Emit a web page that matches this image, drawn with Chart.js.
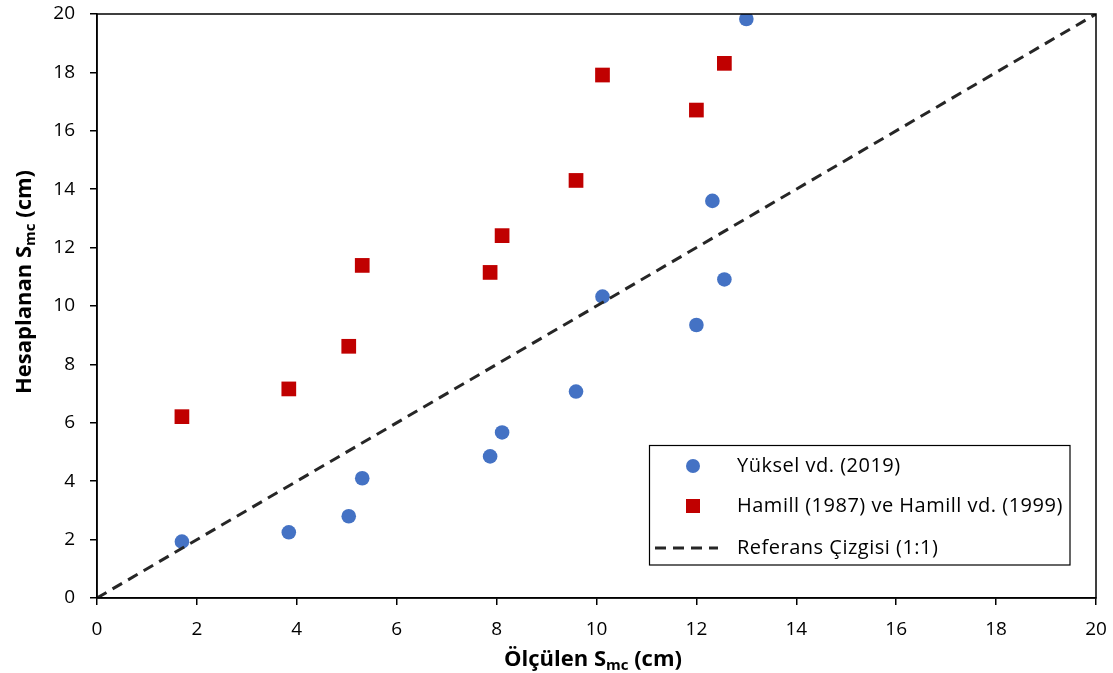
<!DOCTYPE html>
<html>
<head>
<meta charset="utf-8">
<script src="https://cdn.jsdelivr.net/npm/chart.js@4/dist/chart.umd.min.js"></script>
<style>
  html, body { margin: 0; padding: 0; background: #fff; }
  #wrap { width: 1113px; height: 673px; }
</style>
</head>
<body>
<div id="wrap"><canvas id="c" width="1113" height="673"></canvas></div>
<script>
// Measured vs. computed S_mc (cm)
const yukselX = [1.70, 3.84, 5.04, 5.31, 7.87, 8.11, 9.59, 10.12, 12.00, 12.32, 12.56, 13.00];
const yukselY = [1.93, 2.25, 2.80, 4.10, 4.85, 5.67, 7.07, 10.32, 9.35, 13.60, 10.91, 19.83];
const hamillX = [1.70, 3.84, 5.04, 5.31, 7.87, 8.11, 9.59, 10.12, 12.00, 12.56];
const hamillY = [6.21, 7.16, 8.62, 11.39, 11.15, 12.41, 14.30, 17.91, 16.71, 18.31];
const referenceX = [0, 20];
const referenceY = [0, 20];
const seriesNames = ['Yüksel vd. (2019)', 'Hamill (1987) ve Hamill vd. (1999)', 'Referans Çizgisi (1:1)'];
const axisMin = 0, axisMax = 20, axisStep = 2;
const xTitle = ['Ölçülen S', 'mc', ' (cm)'];
const yTitle = ['Hesaplanan S', 'mc', ' (cm)'];

const FONT = '"Open Sans", sans-serif';
const BLUE = '#4472C4', RED = '#C00000', DASH = '#262626';

const toPoints = (xs, ys) => xs.map((x, i) => ({ x, y: ys[i] }));

// draw "Main" + subscript + tail, centred at (0,0) in the current transform
function drawSubTitle(ctx, parts, size) {
  const big = `bold ${size}px ${FONT}`;
  const small = `bold ${Math.round(size * 0.66)}px ${FONT}`;
  ctx.font = big; const w1 = ctx.measureText(parts[0]).width;
  ctx.font = small; const w2 = ctx.measureText(parts[1]).width;
  ctx.font = big; const w3 = ctx.measureText(parts[2]).width;
  let x = -(w1 + w2 + w3) / 2;
  ctx.textBaseline = 'alphabetic'; ctx.textAlign = 'left'; ctx.fillStyle = '#000';
  ctx.font = big; ctx.fillText(parts[0], x, size * 0.36); x += w1;
  ctx.font = small; ctx.fillText(parts[1], x, size * 0.36 + size * 0.2); x += w2;
  ctx.font = big; ctx.fillText(parts[2], x, size * 0.36);
}

const framePlugin = {
  id: 'frame',
  afterDraw(chart) {
    const { ctx, chartArea: a } = chart;
    ctx.save();
    // plot frame
    ctx.strokeStyle = '#000'; ctx.lineWidth = 1.5;
    ctx.strokeRect(a.left, a.top, a.right - a.left, a.bottom - a.top);

    // axis titles
    ctx.save();
    ctx.translate(593, 658);
    drawSubTitle(ctx, xTitle, 22);
    ctx.restore();
    ctx.save();
    ctx.translate(23, 282);
    ctx.rotate(-Math.PI / 2);
    drawSubTitle(ctx, yTitle, 22);
    ctx.restore();

    // legend box
    const bx = 649.5, by = 445.5, bw = 420.5, bh = 119.5;
    ctx.fillStyle = '#fff'; ctx.fillRect(bx, by, bw, bh);
    ctx.strokeStyle = '#000'; ctx.lineWidth = 1.2; ctx.strokeRect(bx, by, bw, bh);
    const rows = [466, 506, 548];
    const mx = 693, tx = 737;
    ctx.font = `20px ${FONT}`; ctx.fillStyle = '#000';
    ctx.textAlign = 'left'; ctx.textBaseline = 'middle';
    // circle
    ctx.fillStyle = BLUE; ctx.beginPath(); ctx.arc(mx, rows[0], 7, 0, Math.PI * 2); ctx.fill();
    // square
    ctx.fillStyle = RED; ctx.fillRect(mx - 7, rows[1] - 7, 14, 14);
    // dashed line
    ctx.strokeStyle = DASH; ctx.lineWidth = 3; ctx.setLineDash([11, 7]);
    ctx.beginPath(); ctx.moveTo(655, rows[2]); ctx.lineTo(718, rows[2]); ctx.stroke();
    ctx.setLineDash([]);
    ctx.fillStyle = '#000';
    if ('letterSpacing' in ctx) ctx.letterSpacing = '0.5px';
    seriesNames.forEach((n, i) => ctx.fillText(n, tx, rows[i]));
    ctx.restore();
  }
};

const tickFont = { family: FONT, size: 19 };

// keep the plot area fixed: tick-label overflow must not shrink it
function noLabelPadding(s) {
  s.paddingTop = 0; s.paddingBottom = 0; s.paddingLeft = 0; s.paddingRight = 0;
}

new Chart(document.getElementById('c'), {
  type: 'scatter',
  data: {
    datasets: [
      {
        label: seriesNames[2], type: 'line', data: toPoints(referenceX, referenceY),
        borderColor: DASH, borderWidth: 3, borderDash: [11, 7], pointRadius: 0,
        fill: false, order: 0
      },
      {
        label: seriesNames[0], data: toPoints(yukselX, yukselY),
        pointStyle: 'circle', pointRadius: 7.3, backgroundColor: BLUE, borderColor: BLUE,
        borderWidth: 0, order: 2
      },
      {
        label: seriesNames[1], data: toPoints(hamillX, hamillY),
        pointStyle: 'rect', pointRadius: 10.4, backgroundColor: RED, borderColor: RED,
        borderWidth: 0, order: 1
      }
    ]
  },
  options: {
    responsive: false, animation: false, devicePixelRatio: 1,
    layout: { padding: { left: 0, top: 14, right: 17, bottom: 0 } },
    plugins: { legend: { display: false }, tooltip: { enabled: false } },
    scales: {
      x: {
        type: 'linear', min: axisMin, max: axisMax,
        ticks: { stepSize: axisStep, font: tickFont, color: '#000', padding: 13, maxRotation: 0 },
        grid: { drawOnChartArea: false, drawTicks: true, tickLength: 7, color: '#000', lineWidth: 1.5 },
        border: { color: '#000', width: 1.5 },
        afterFit(s) { s.height = 75; noLabelPadding(s); }
      },
      y: {
        type: 'linear', min: axisMin, max: axisMax,
        ticks: { stepSize: axisStep, font: tickFont, color: '#000', padding: 15 },
        grid: { drawOnChartArea: false, drawTicks: true, tickLength: 7, color: '#000', lineWidth: 1.5 },
        border: { color: '#000', width: 1.5 },
        afterFit(s) { s.width = 97; noLabelPadding(s); }
      }
    }
  },
  plugins: [framePlugin]
});
</script>
</body>
</html>
